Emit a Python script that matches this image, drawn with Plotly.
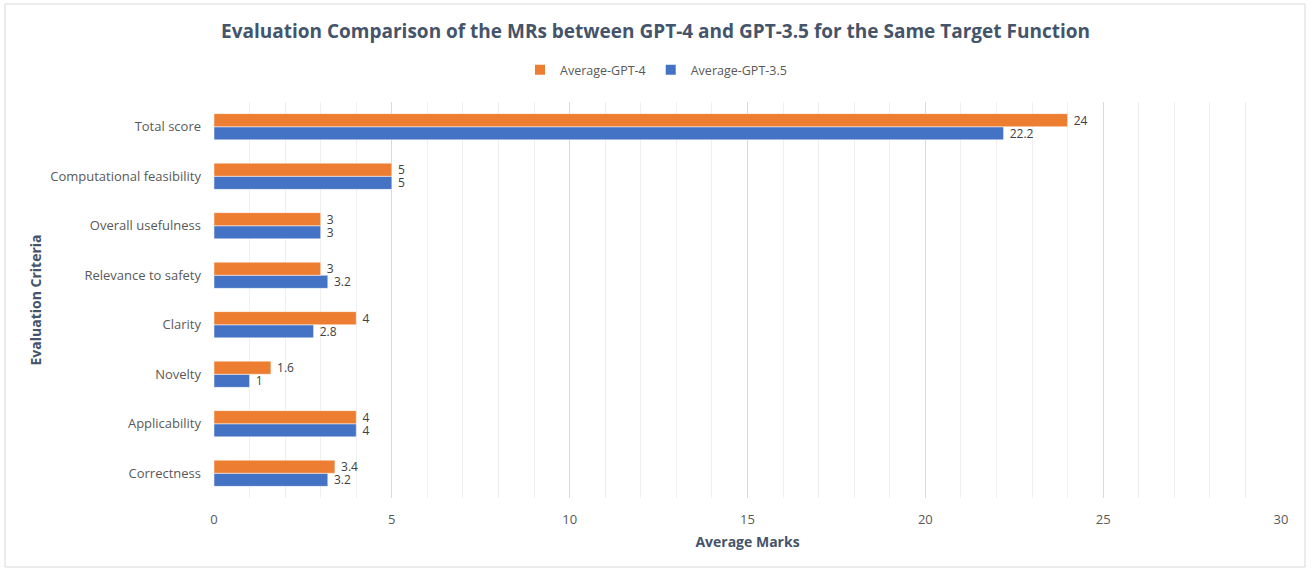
import plotly.graph_objects as go

categories = ["Correctness", "Applicability", "Novelty", "Clarity",
              "Relevance to safety", "Overall usefulness",
              "Computational feasibility", "Total score"]
gpt4 = [3.4, 4, 1.6, 4, 3, 3, 5, 24]
gpt35 = [3.2, 4, 1, 2.8, 3.2, 3, 5, 22.2]
x_ticks = [0, 5, 10, 15, 20, 25, 30]

W, H = 1311, 571
L, R, T, B = 214, 30, 102, 73
pw, ph = W - L - R, H - T - B

def px(x):
    return (x - L) / pw

def py(y):
    return (H - B - y) / ph

fig = go.Figure()
fig.add_trace(go.Bar(
    y=categories, x=gpt35, orientation="h", name="Average-GPT-3.5",
    marker=dict(color="#4472C4", line=dict(color="#FFFFFF", width=0.5)),
    text=[" " + f"{v:g}" for v in gpt35], textposition="outside",
    constraintext="none",
    textfont=dict(color="#404040", size=12), cliponaxis=False,
    legendrank=2,
))
fig.add_trace(go.Bar(
    y=categories, x=gpt4, orientation="h", name="Average-GPT-4",
    marker=dict(color="#ED7D31", line=dict(color="#FFFFFF", width=0.5)),
    text=[" " + f"{v:g}" for v in gpt4], textposition="outside",
    constraintext="none",
    textfont=dict(color="#404040", size=12), cliponaxis=False,
    legendrank=1,
))

fig.update_layout(
    width=W, height=H,
    margin=dict(l=L, r=R, t=T, b=B),
    paper_bgcolor="white", plot_bgcolor="white",
    font=dict(family="Open Sans", color="#595959", size=13),
    barmode="group", bargap=0.47, bargroupgap=0,
    title=dict(
        text="<b>Evaluation Comparison of the MRs between GPT-4 and GPT-3.5 for the Same Target Function</b>",
        x=0.5, xref="container", xanchor="center",
        y=1 - 31 / H, yref="container", yanchor="middle",
        font=dict(family="Open Sans", size=19, color="#44546A"),
    ),
    legend=dict(
        orientation="h", x=px(656), xanchor="center",
        y=py(70), yanchor="middle",
        font=dict(size=12.5, color="#595959"),
        itemwidth=30, itemsizing="constant",
    ),
    showlegend=True,
    xaxis=dict(
        range=[0, 30], tickvals=x_ticks, ticktext=[str(t) for t in x_ticks],
        showgrid=True, gridcolor="#D9D9D9", gridwidth=1,
        minor=dict(dtick=1, showgrid=True, gridcolor="#EFEFEF", gridwidth=1),
        zeroline=False, showline=False, ticks="", ticklabelstandoff=12,
        title=dict(text="<b>Average Marks</b>", standoff=10,
                   font=dict(size=14, color="#44546A")),
        tickfont=dict(size=13, color="#595959"),
    ),
    yaxis=dict(
        showgrid=False, zeroline=False, showline=False, ticks="",
        ticklabelstandoff=12,
        title=dict(text="<b>Evaluation Criteria</b>", standoff=5,
                   font=dict(size=14, color="#44546A")),
        tickfont=dict(size=13, color="#595959"),
    ),
)

fig.add_shape(type="rect", xref="paper", yref="paper",
              x0=px(5), x1=px(1305), y0=py(567), y1=py(4),
              line=dict(color="#D9D9D9", width=1), fillcolor="rgba(0,0,0,0)",
              layer="below")

fig.write_html("out.html",
               config={"displayModeBar": False},
               post_script="document.body.style.margin='0';document.body.style.overflow='hidden';")
